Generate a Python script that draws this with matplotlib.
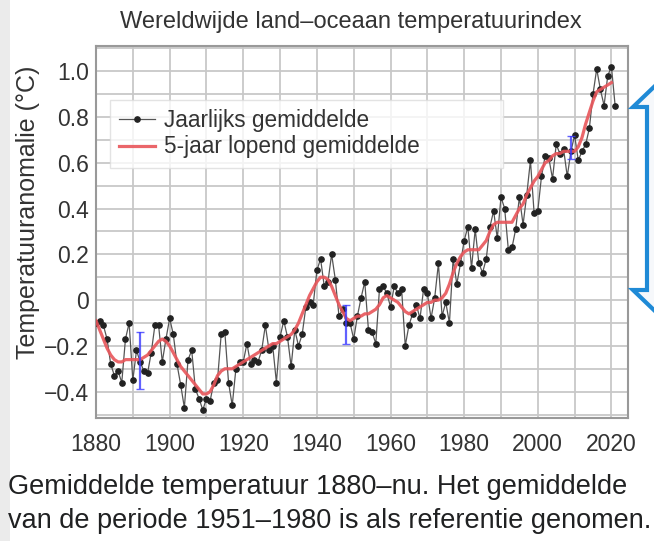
import numpy as np
import matplotlib
matplotlib.use("Agg")
import matplotlib.pyplot as plt
from matplotlib.patches import Polygon, Rectangle

plt.rcParams['font.family'] = ['Liberation Sans', 'DejaVu Sans']

title = "Wereldwijde land\u2013oceaan temperatuurindex"
ylabel = "Temperatuuranomalie (\u00b0C)"
legend_labels = ["Jaarlijks gemiddelde", "5-jaar lopend gemiddelde"]
caption = ["Gemiddelde temperatuur 1880\u2013nu. Het gemiddelde",
           "van de periode 1951\u20131980 is als referentie genomen."]

xticks = [1880, 1900, 1920, 1940, 1960, 1980, 2000, 2020]
yticks = [-0.4, -0.2, 0.0, 0.2, 0.4, 0.6, 0.8, 1.0]
ytick_labels = ["\u22120.4", "\u22120.2", "0", "0.2", "0.4", "0.6", "0.8", "1.0"]

annual = [
    -0.10, -0.09, -0.11, -0.17, -0.28, -0.33, -0.31, -0.36, -0.17, -0.10,
    -0.35, -0.22, -0.27, -0.31, -0.32, -0.23, -0.11, -0.11, -0.27, -0.17,
    -0.08, -0.15, -0.28, -0.37, -0.47, -0.26, -0.22, -0.39, -0.43, -0.48,
    -0.43, -0.44, -0.36, -0.35, -0.15, -0.14, -0.36, -0.46, -0.30, -0.27,
    -0.27, -0.19, -0.28, -0.26, -0.27, -0.22, -0.11, -0.22, -0.20, -0.36,
    -0.16, -0.09, -0.16, -0.29, -0.13, -0.20, -0.15, -0.03, -0.01, -0.02,
    0.13, 0.18, 0.06, 0.08, 0.20, 0.09, -0.07, -0.04, -0.10, -0.10,
    -0.17, -0.07, 0.01, 0.08, -0.13, -0.14, -0.19, 0.05, 0.06, 0.03,
    -0.03, 0.06, 0.03, 0.05, -0.20, -0.11, -0.06, -0.02, -0.08, 0.05,
    0.03, -0.08, 0.01, 0.16, -0.07, -0.01, -0.10, 0.18, 0.07, 0.16,
    0.26, 0.32, 0.14, 0.31, 0.16, 0.12, 0.18, 0.32, 0.39, 0.27,
    0.45, 0.40, 0.22, 0.23, 0.31, 0.45, 0.33, 0.46, 0.61, 0.38,
    0.39, 0.54, 0.63, 0.62, 0.53, 0.68, 0.64, 0.66, 0.54, 0.65,
    0.72, 0.61, 0.65, 0.68, 0.75, 0.90, 1.01, 0.92, 0.85, 0.98,
    1.02, 0.85,
]
years = np.arange(1880, 1880 + len(annual))

smooth = [
    -0.09, -0.13, -0.17, -0.21, -0.24, -0.26, -0.27, -0.27, -0.26, -0.26,
    -0.26, -0.26, -0.26, -0.25, -0.24, -0.22, -0.20, -0.18, -0.17, -0.18,
    -0.20, -0.23, -0.26, -0.29, -0.31, -0.33, -0.35, -0.37, -0.39, -0.41,
    -0.41, -0.40, -0.37, -0.33, -0.31, -0.30, -0.30, -0.30, -0.29, -0.28,
    -0.27, -0.26, -0.25, -0.24, -0.23, -0.22, -0.21, -0.20, -0.19, -0.19,
    -0.18, -0.17, -0.16, -0.15, -0.13, -0.10, -0.06, -0.02, 0.02, 0.05,
    0.08, 0.10, 0.10, 0.09, 0.06, 0.02, -0.02, -0.05, -0.08, -0.09,
    -0.08, -0.07, -0.07, -0.06, -0.06, -0.05, -0.04, -0.02, 0.01, 0.02,
    0.01, 0.00, -0.01, -0.03, -0.05, -0.06, -0.05, -0.04, -0.03, -0.02,
    -0.01, -0.01, 0.00, 0.00, 0.01, 0.03, 0.07, 0.12, 0.16, 0.19,
    0.21, 0.22, 0.22, 0.22, 0.22, 0.24, 0.26, 0.30, 0.33, 0.34,
    0.34, 0.34, 0.34, 0.34, 0.37, 0.40, 0.42, 0.46, 0.49, 0.52,
    0.54, 0.57, 0.60, 0.61, 0.63, 0.64, 0.64, 0.65, 0.65, 0.65,
    0.65, 0.67, 0.71, 0.77, 0.82, 0.87, 0.91, 0.92, 0.93, 0.94,
    0.95,
]
smooth_years = np.arange(1880, 1880 + len(smooth))

err_years = [1892, 1948, 2009]
err_center = [-0.265, -0.105, 0.665]
err_half = [0.125, 0.085, 0.05]

W, H = 654, 541
fig = plt.figure(figsize=(W / 100, H / 100), dpi=100, facecolor='white')

# left grey strip
fig.patches.append(Rectangle((0, 0), 10 / W, 1, transform=fig.transFigure,
                             facecolor='#ebebeb', edgecolor='none', zorder=0))

ax = fig.add_axes([96 / W, 1 - 418 / H, (628 - 96) / W, (418 - 46) / H])
ax.set_facecolor('white')
ax.set_xlim(1880, 2024.5)
ax.set_ylim(-0.515, 1.11)

ax.set_xticks(np.arange(1880, 2021, 10), minor=True)
ax.set_xticks(xticks)
ax.set_yticks(np.arange(-0.5, 1.11, 0.1), minor=True)
ax.set_yticks(yticks)
ax.set_yticklabels(ytick_labels)
ax.grid(True, which='both', color='#c8c8c8', linewidth=1.3)
ax.set_axisbelow(True)
ax.tick_params(which='both', length=0)
ax.tick_params(axis='x', pad=11, labelsize=16.5, labelcolor='#333333')
ax.tick_params(axis='y', pad=5, labelsize=16.5, labelcolor='#333333')
for s in ax.spines.values():
    s.set_color('#999999')
    s.set_linewidth(1.5)

ax.plot(years, annual, color='#555555', linewidth=0.9, marker='o',
        markersize=3.8, markerfacecolor='#222222', markeredgecolor='#222222',
        label=legend_labels[0], zorder=3)
ax.plot(smooth_years, smooth, color='#e8555a', linewidth=2.3, alpha=0.9,
        label=legend_labels[1], zorder=4)
ax.errorbar(err_years, err_center, yerr=err_half, fmt='none',
            ecolor='#3a3aff', elinewidth=1.6, capsize=3, alpha=0.8, zorder=5)

# legend box spans x 110..503, top at y=100 (pixels)
lx0 = (110 - 96) / 532
lx1 = (503 - 96) / 532
ltop = (418 - 100) / 372
leg = ax.legend(loc='upper left', bbox_to_anchor=(lx0, ltop - 0.2, lx1 - lx0, 0.2),
                mode='expand', fontsize=16.3,
                frameon=True, fancybox=False, edgecolor='#dddddd',
                handlelength=1.6, borderpad=0.4, labelspacing=0.15,
                handletextpad=0.4, borderaxespad=0)
for t in leg.get_texts():
    t.set_color('#333333')

fig.text(351 / W, 1 - 22 / H, title, ha='center', va='center', fontsize=17,
         color='#333333')
fig.text(28 / W, 1 - 212 / H, ylabel, ha='center', va='center', rotation=90,
         fontsize=18, color='#333333')

fig.text(8 / W, 1 - 487 / H, caption[0], ha='left', va='center', fontsize=19.5,
         color='#202122')
fig.text(8 / W, 1 - 521 / H, caption[1], ha='left', va='center', fontsize=19.5,
         color='#202122')

# blue double-arrow callout on the right edge
pts = [(633, 107), (657, 84), (681, 107), (667, 107), (667, 290),
       (681, 290), (657, 313), (633, 290), (647, 290), (647, 107)]
poly = Polygon([(x / W, 1 - y / H) for x, y in pts], closed=True,
               transform=fig.transFigure, facecolor='#f6f8fb',
               edgecolor='#1f8ad6', linewidth=3, zorder=10)
fig.patches.append(poly)

fig.savefig('out.png', dpi=100, facecolor=fig.get_facecolor())
